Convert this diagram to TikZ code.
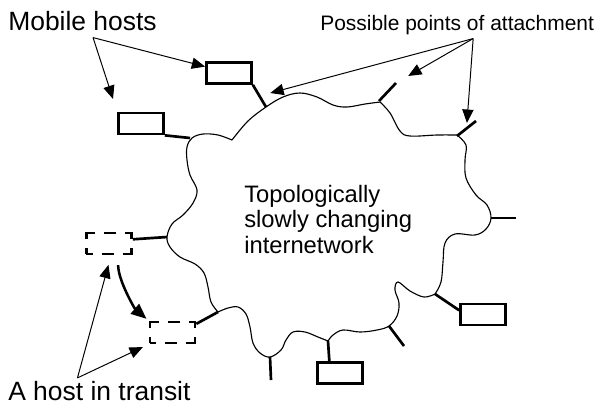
\documentclass[tikz,border=0pt]{standalone}
\usepackage{fontspec}
\setmainfont{Liberation Sans}
\usetikzlibrary{arrows.meta}
\tikzstyle{host} = [rectangle, minimum width=1.125cm, minimum height=0.525cm, inner sep=0pt, draw=black, line width=1.9pt]
\tikzstyle{roaming} = [host, dash pattern=on 8.54pt off 6.4pt on 8.54pt off 6.4pt on 10.67pt off 6.4pt, dash phase=4.27pt]
\tikzstyle{stub} = [line width=1.9pt]
\tikzstyle{netline} = [line width=0.8pt]
\tikzstyle{caption} = [inner sep=0pt, anchor=base west]
\tikzstyle{arrow} = [line width=0.7pt, -{Triangle[length=9.5pt,width=8pt]}]
\tikzstyle{move} = [line width=1.8pt, -{Triangle[length=11pt,width=9pt]}]

\begin{document}
\begin{tikzpicture}[x=0.025cm, y=-0.025cm]
\useasboundingbox (0,0) rectangle (597,404);

% Labels
\node (mobile) [caption, font=\fontsize{18.8pt}{22pt}\selectfont] at (8,30) {Mobile hosts};
\node (points) [caption, font=\fontsize{14.9pt}{18pt}\selectfont] at (320,30) {Possible points of attachment};
\node (net) [caption, align=left, font=\fontsize{16.9pt}{17.8pt}\selectfont] at (244,253) {Topologically\\slowly changing\\internetwork};
\node (transit) [caption, font=\fontsize{18.8pt}{22pt}\selectfont] at (8,400) {A host in transit};

% The internetwork
\draw [netline] plot [smooth, tension=0.6] coordinates {(232,140) (248,121) (266,107) (283,97) (300,93) (317,97) (333,105) (347,107) (365,104) (380,102)}
  -- plot [smooth, tension=0.6] coordinates {(380,102) (390,113) (400,131) (410,136) (437,135) (457,135)}
  -- plot [smooth, tension=0.6] coordinates {(457,135) (466,145) (465,160) (466,178) (476,195) (487,205) (491,218) (486,229) (475,235) (455,234) (445,243) (443,262) (441,282) (435,294)}
  -- plot [smooth, tension=0.6] coordinates {(435,294) (424,297) (410,291) (398,282) (395,290) (399,303) (397,316) (389,326) (377,330) (360,332) (343,330) (333,335) (328,341)}
  -- plot [smooth, tension=0.6] coordinates {(328,341) (318,337) (305,332) (293,332) (286,340) (281,350) (270,357) (260,353) (253,343) (250,327) (246,314) (238,307) (228,308) (218,312)}
  -- plot [smooth, tension=0.6] coordinates {(218,312) (211,302) (208,287) (204,273) (195,264) (180,257) (170,247) (167,237) (172,224) (183,215) (193,203) (197,190) (190,175) (187,160) (187,147) (192,138) (203,134) (218,135) (232,140)};

% Points of attachment
\coordinate (a1) at (266,107);
\coordinate (a2) at (190,138);
\coordinate (a3) at (379,101);
\coordinate (e3) at (396,83);
\coordinate (a4) at (457,136);
\coordinate (e4) at (476,121);
\coordinate (a5) at (491,218);
\coordinate (e5) at (516,218);
\coordinate (a6) at (435,294);
\coordinate (a7) at (389,326);
\coordinate (e7) at (404,346);
\coordinate (a8) at (328,341);
\coordinate (a9) at (270,357);
\coordinate (e9) at (271,380);
\coordinate (a10) at (218,312);
\coordinate (a11) at (167,237);

% Hosts
\node (R1) [host] at (229,73) {};
\node (R2) [host] at (141,123.5) {};
\node (R3) [host] at (483,314.5) {};
\node (R4) [host] at (340,373) {};
\node (D1) [roaming] at (109,243.5) {};
\node (D2) [roaming] at (172.5,332.5) {};

% Stubs
\draw [stub] (R1.south east) -- coordinate (m1) (a1);
\draw [stub] (R2.south east) -- (a2);
\draw [stub] (a3) -- (e3);
\draw [stub] (a4) -- coordinate (m4) (e4);
\draw [stub] (a5) -- (e5);
\draw [stub] (a6) -- (R3.170);
\draw [stub] (a7) -- (e7);
\draw [stub] (a8) -- (R4.132);
\draw [stub] (a9) -- (e9);
\draw [stub] (a10) -- (D2.20);
\draw [stub] (a11) -- (D1.10);

% Connecting arrows
\coordinate (mh) at ([xshift=7.5pt, yshift=-5pt]mobile.south);
\coordinate (pa) at ([xshift=11.4pt, yshift=-2.8pt]points.south);
\coordinate (ht) at ([xshift=-15.6pt, yshift=1.9pt]transit.north);
\draw [arrow] (mh) -- (R1.165);
\draw [arrow, shorten >=9.5pt] (mh) -- (R2.north west);
\draw [arrow, shorten >=8pt] (pa) -- (m1);
\draw [arrow, shorten >=10pt] (pa) -- (e3);
\draw [arrow, shorten >=4pt] (pa) -- (m4);
\draw [arrow, shorten >=7pt] (ht) -- (D1.-80);
\draw [arrow, shorten >=4.5pt] (ht) -- (D2.south west);
\draw [move, shorten <=7pt, shorten >=2pt] ([xshift=6.5pt]D1.south) .. controls +(0,25) and +(-14,-12) .. (D2.north west);

\end{tikzpicture}
\end{document}
